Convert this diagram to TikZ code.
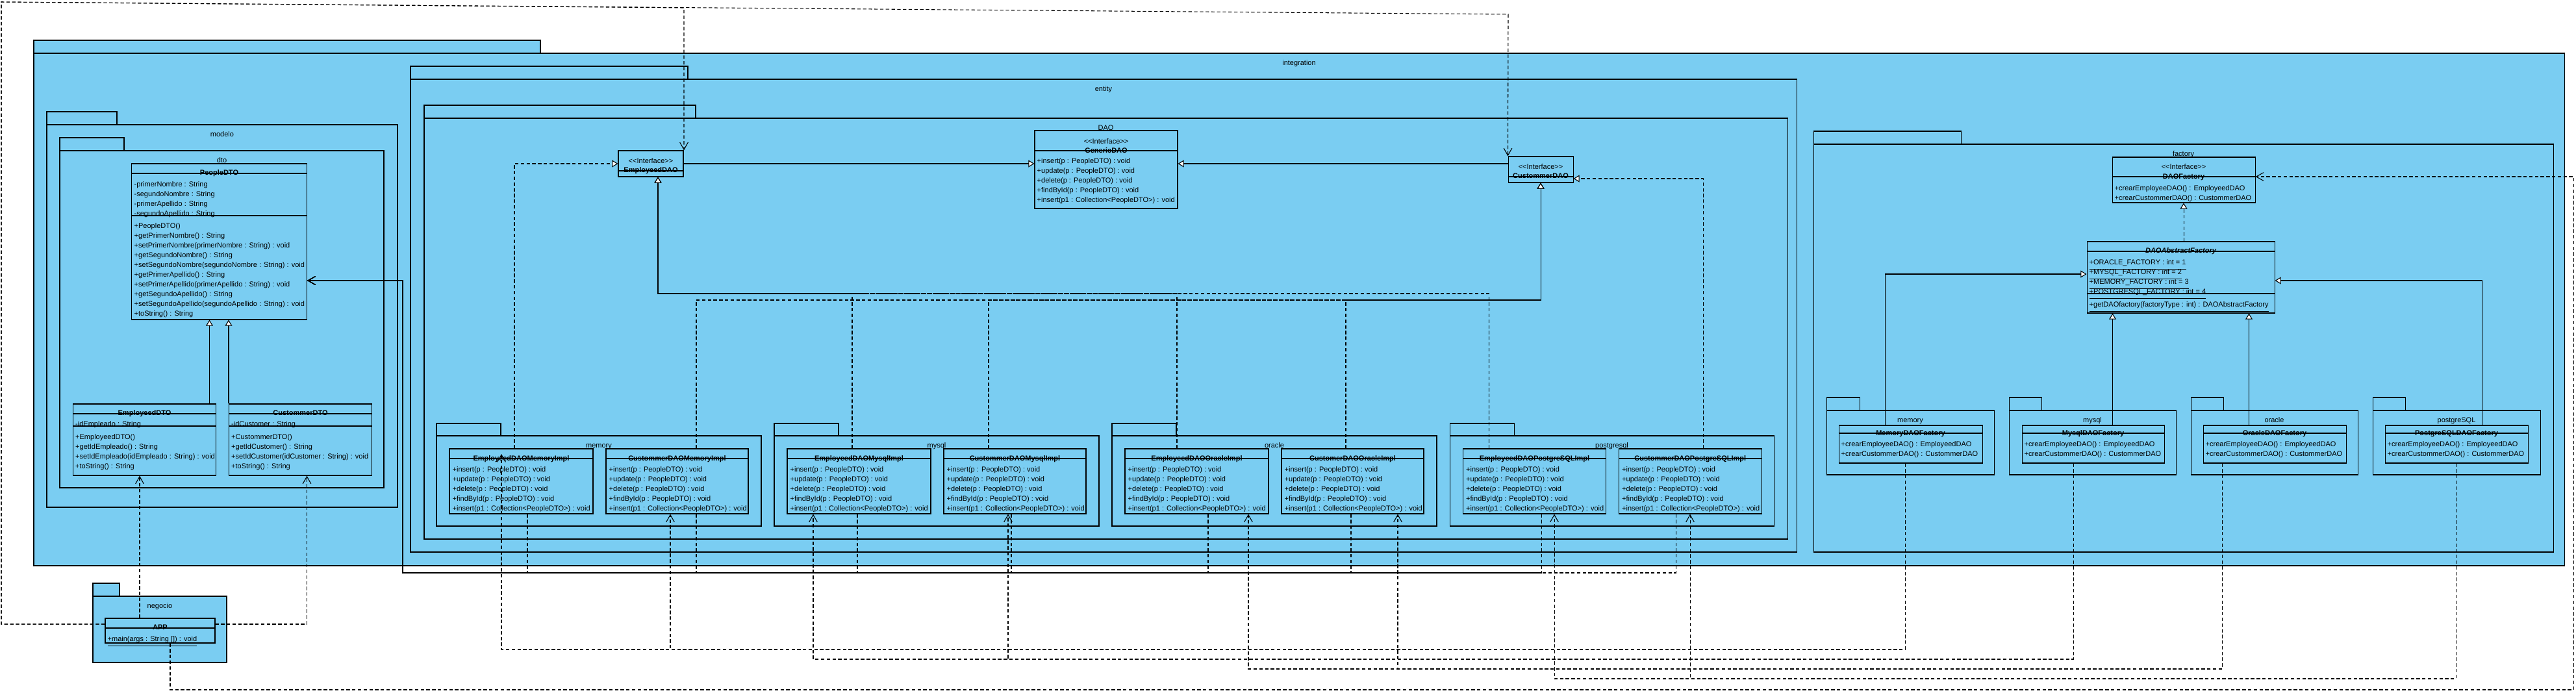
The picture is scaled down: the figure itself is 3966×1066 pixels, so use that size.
\documentclass[tikz,border=0pt]{standalone}
\usepackage{fontspec}
\setmainfont{Liberation Sans}
\usetikzlibrary{arrows.meta,fit,calc}
\definecolor{pkgblue}{RGB}{122,205,242}
\newcommand\fa{\fontsize{3.13pt}{3.8pt}\selectfont}
\newcommand\ster{<\kern0pt<Interface>\kern0pt>}
\tikzset{
  lw/.style={line width=0.3pt},
  pkg/.style={draw=black, fill=pkgblue, lw, inner sep=0pt},
  cls/.style={draw=black, fill=pkgblue, lw, inner sep=0pt},
  sepline/.style={draw=black, lw},
  tx/.style={anchor=mid west, inner sep=0pt, font=\fa},
  tc/.style={anchor=mid, inner sep=0pt, font=\fa},
  tb/.style={anchor=mid, inner sep=0pt, font=\fa\bfseries},
  gen/.style={draw=black, lw, -{Triangle[length=2.6pt,width=3.1pt,fill=white]}},
  real/.style={gen, dash pattern=on 1.5pt off 1pt},
  dep/.style={draw=black, lw, dash pattern=on 1.5pt off 1pt, -{Straight Barb[length=3.2pt,width=3.6pt]}},
}
\newcommand\upkg[8]{\draw[pkg] (#2,#3) rectangle (#4,#5);
  \node[pkg, fit={(#2,#5)(#6,#7)}] (#1) {};
  \node[tc] at ($(#1.north)+(0,10)$) {#8};}
\newcommand\ucls[5]{\node[cls, fit={(#2,#3)(#4,#5)}] (#1) {};}
\newcommand\usep[2]{\draw[sepline] (#1.west |- 0,#2) -- (#1.east |- 0,#2);}
\newcommand\ulines[3]{\foreach \mline [count=\mi from 0] in #3 {\node[tx] at (#1, #2+15*\mi) {\mline};}}
\def\implmethods{+insert(p : PeopleDTO) : void, +update(p : PeopleDTO) : void, +delete(p : PeopleDTO) : void, +findById(p : PeopleDTO) : void, +insert(p1 : Collection<PeopleDTO>) : void}
\def\factmethods{+crearEmployeeDAO() : EmployeedDAO, +crearCustommerDAO() : CustommerDAO}
\newcommand\uimpl[4]{% name, x1, x2, title
  \ucls{#1}{#2}{691}{#3}{791}\usep{#1}{706}
  \node[tb] at (#1.north |- 0,700) {#4};
  \ulines{#2+4}{717}{\implmethods}}
\newcommand\ufact[4]{% name, x1, x2, title
  \ucls{#1}{#2}{655}{#3}{713}\usep{#1}{667}
  \node[tb] at (#1.north |- 0,661) {#4};
  \ulines{#2+3}{678}{\factmethods}}
\begin{document}
\begin{tikzpicture}[x=0.01cm,y=-0.01cm]
\useasboundingbox (0,0) rectangle (3966,1066);
% packages
\upkg{integ}{52}{62}{832}{82}{3948}{871}{integration}
\upkg{modelo}{72}{172}{180}{192}{612}{781}{modelo}
\upkg{dto}{92}{212}{191}{232}{591}{751}{dto}
% DTO classes
\ucls{people}{202.5}{252}{472.5}{492}\usep{people}{267}\usep{people}{332}
\node[tb] at (people.north |- 0,260) {PeopleDTO};
\ulines{206}{278}{{-primerNombre : String, -segundoNombre : String, -primerApellido : String, -segundoApellido : String}}
\ulines{206}{342}{{+PeopleDTO(), +getPrimerNombre() : String, +setPrimerNombre(primerNombre : String) : void, +getSegundoNombre() : String, +setSegundoNombre(segundoNombre : String) : void, +getPrimerApellido() : String, +setPrimerApellido(primerApellido : String) : void, +getSegundoApellido() : String, +setSegundoApellido(segundoApellido : String) : void, +toString() : String}}
\ucls{empdto}{112.5}{622}{332.5}{732}\usep{empdto}{637}\usep{empdto}{656}
\node[tb] at (empdto.north |- 0,630) {EmployeedDTO};
\node[tx] at (115.5,647) {-idEmpleado : String};
\ulines{115.5}{667}{{+EmployeedDTO(), +getIdEmpleado() : String, +setIdEmpleado(idEmpleado : String) : void, +toString() : String}}
\ucls{cusdto}{352.5}{622}{572.5}{732}\usep{cusdto}{637}\usep{cusdto}{656}
\node[tb] at (cusdto.north |- 0,630) {CustommerDTO};
\node[tx] at (355.5,647) {-idCustomer : String};
\ulines{355.5}{667}{{+CustommerDTO(), +getIdCustomer() : String, +setIdCustomer(idCustomer : String) : void, +toString() : String}}
% entity / DAO
\upkg{entity}{632}{102}{1059}{122}{2766}{850}{entity}
\upkg{dao}{653}{162}{1071}{182}{2752}{830}{DAO}
\ucls{empdao}{952}{232}{1052}{272}\usep{empdao}{263}
\node[tc] at (empdao.north |- 0,242) {\ster};
\node[tb] at (empdao.north |- 0,256) {EmployeedDAO};
\ucls{gendao}{1593}{201}{1813}{321}\usep{gendao}{232}
\node[tc] at (gendao.north |- 0,212) {\ster};
\node[tb] at (gendao.north |- 0,226) {GenericDAO};
\ulines{1596}{242}{\implmethods}
\ucls{cusdao}{2322}{241}{2422}{281}\usep{cusdao}{272}
\node[tc] at (cusdao.north |- 0,251) {\ster};
\node[tb] at (cusdao.north |- 0,265) {CustommerDAO};
\upkg{pmem}{672}{652}{771}{671}{1172}{810}{memory}
\upkg{pmy}{1192}{652}{1291}{671}{1692}{810}{mysql}
\upkg{por}{1712}{652}{1811}{671}{2212}{810}{oracle}
\upkg{ppg}{2232}{652}{2331}{671}{2731}{810}{postgresql}
\uimpl{empmem}{692}{913}{EmployeedDAOMemoryImpl}
\uimpl{cusmem}{933}{1152}{CustommerDAOMemoryImpl}
\uimpl{empmy}{1212}{1433}{EmployeedDAOMysqlImpl}
\uimpl{cusmy}{1453}{1672}{CustommerDAOMysqlImpl}
\uimpl{empor}{1732}{1953}{EmployeedDAOOracleImpl}
\uimpl{cusor}{1973}{2192}{CustomerDAOOracleImpl}
\uimpl{emppg}{2252.5}{2472.5}{EmployeedDAOPostgreSQLImpl}
\uimpl{cuspg}{2492.5}{2712}{CustommerDAOPostgreSQLImpl}
% factory
\upkg{fact}{2792}{202}{3019}{222}{3931}{850}{factory}
\ucls{daof}{3252}{242}{3472}{312}\usep{daof}{272}
\node[tc] at (daof.north |- 0,251) {\ster};
\node[tb] at (daof.north |- 0,266) {DAOFactory};
\ulines{3255}{284}{\factmethods}
\ucls{absf}{3213}{372}{3502}{482}\usep{absf}{387}\usep{absf}{452}
\node[tb] at (absf.north |- 0,380) {\itshape DAOAbstractFactory};
\ulines{3216}{398}{{\underline{+ORACLE\_FACTORY : int = 1}, \underline{+MYSQL\_FACTORY : int = 2}, \underline{+MEMORY\_FACTORY : int = 3}, \underline{+POSTGRESQL\_FACTORY : int = 4}}}
\node[tx] at (3216,463) {\underline{+getDAOfactory(factoryType : int) : DAOAbstractFactory}};
\upkg{fmem}{2812}{612}{2863}{632}{3070}{731}{memory}
\upkg{fmy}{3093}{612}{3143}{632}{3350}{731}{mysql}
\upkg{for}{3373}{612}{3423}{632}{3630}{731}{oracle}
\upkg{fpg}{3653}{612}{3703}{632}{3911}{731}{postgreSQL}
\ufact{memf}{2831}{3052}{MemoryDAOFactory}
\ufact{myf}{3113}{3332}{MysqlDAOFactory}
\ufact{orf}{3392}{3612}{OracleDAOFactory}
\ufact{pgf}{3672}{3892}{PostgreSQLDAOFactory}
% negocio
\upkg{neg}{143}{898}{184}{918}{349}{1020}{negocio}
\ucls{app}{162}{952}{331}{990}\usep{app}{967}
\node[tb] at (app.north |- 0,960) {APP};
\node[tx] at (165,978) {\underline{+main(args : String []) : void}};
% generalizations
\draw[gen] (empdto.north -| 322.5,0) -- (people.south -| 322.5,0);
\draw[gen] (cusdto.north west) -- (people.south -| cusdto.north west);
\draw[gen] (empdao.east |- 0,252) -- (gendao.west |- 0,252);
\draw[gen] (cusdao.west |- 0,252) -- (gendao.east |- 0,252);
\draw[gen] (memf.north -| 2902,0) |- (absf.west |- 0,422);
\draw[gen] (myf.north -| 3252.5,0) -- (absf.south -| 3252.5,0);
\draw[gen] (orf.north -| 3462.5,0) -- (absf.south -| 3462.5,0);
\draw[gen] (pgf.north -| 3821,0) |- (absf.east |- 0,432);
% realizations
\draw[real] (absf.north -| 3362,0) -- (daof.south -| 3362,0);
\draw[real] (empmem.north -| 792,0) |- (empdao.west |- 0,252);
\draw[real] (empmy.north -| 1312,0) -- (1312,452) -| (empdao.south -| 1013,0);
\draw[real] (empor.north -| 1812,0) -- (1812,452) -| (empdao.south -| 1013,0);
\draw[real] (emppg.north -| 2292.5,0) -- (2292.5,452) -| (empdao.south -| 1013,0);
\draw[real] (cusmem.north -| 1072,0) -- (1072,462) -| (cusdao.south -| 2372,0);
\draw[real] (cusmy.north -| 1522,0) -- (1522,462) -| (cusdao.south -| 2372,0);
\draw[real] (cusor.north -| 2072,0) -- (2072,462) -| (cusdao.south -| 2372,0);
\draw[real] (cuspg.north -| 2622,0) |- (cusdao.east |- 0,275);
% dependencies
\draw[dep] (app.north -| 215,0) -- (empdto.south -| 215,0);
\draw[dep] (app.east |- 0,961) -- (472.5,961) -- (cusdto.south -| 472.5,0);
\draw[dep] (app.west |- 0,961) -- (2,961) -- (2,3) -- (1053,12) -- (empdao.north -| 1053,0);
\draw[dep] (app.west |- 0,961) -- (2,961) -- (2,3) -- (2322,22) -- (cusdao.north west);
\draw[dep] (app.south -| 262,0) -- (262,1062) -- (3962,1062) -- (3962,272) -- (daof.east |- 0,272);
\foreach \xx/\nn in {812/empmem, 1072/cusmem, 1320/empmy, 1557/cusmy, 1860/empor, 2080/cusor, 2373/emppg, 2580/cuspg}
  \draw[dep] (\nn.south -| \xx,0) -- (\xx,882) -- (620,882) -- (620,432) -- (people.east |- 0,432);
\draw[dep] (memf.south -| 2933,0) -- (2933,1000) -- (772,1000) -- (772,699);
\draw[dep] (memf.south -| 2933,0) -- (2933,1000) -- (1032,1000) -- (cusmem.south -| 1032,0);
\draw[dep] (myf.south -| 3192,0) -- (3192,1015) -- (1252,1015) -- (empmy.south -| 1252,0);
\draw[dep] (myf.south -| 3192,0) -- (3192,1015) -- (1552,1015) -- (cusmy.south -| 1552,0);
\draw[dep] (orf.south -| 3421,0) -- (3421,1030) -- (1922,1030) -- (empor.south -| 1922,0);
\draw[dep] (orf.south -| 3421,0) -- (3421,1030) -- (2152,1030) -- (cusor.south -| 2152,0);
\draw[dep] (pgf.south -| 3781,0) -- (3781,1045) -- (2393,1045) -- (emppg.south -| 2393,0);
\draw[dep] (pgf.south -| 3781,0) -- (3781,1045) -- (2602,1045) -- (cuspg.south -| 2602,0);
\end{tikzpicture}
\end{document}
